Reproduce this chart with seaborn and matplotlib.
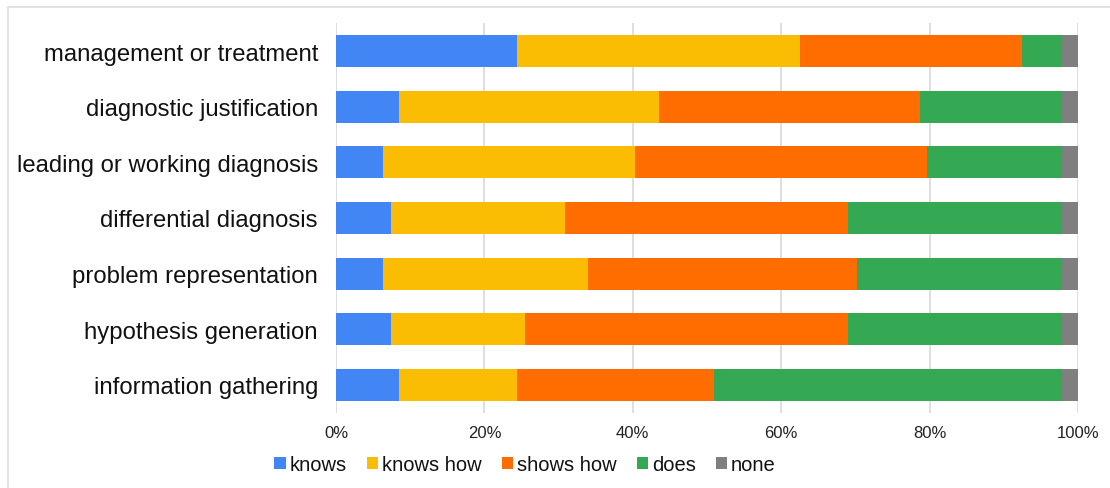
import matplotlib
matplotlib.use("Agg")
import matplotlib.pyplot as plt
from matplotlib.patches import Patch
from matplotlib.lines import Line2D
import seaborn as sns
import pandas as pd

# Competency level reached per clinical reasoning step (% of responses)
categories = [
    "management or treatment",
    "diagnostic justification",
    "leading or working diagnosis",
    "differential diagnosis",
    "problem representation",
    "hypothesis generation",
    "information gathering",
]
levels = ["knows", "knows how", "shows how", "does", "none"]
knows = [24.4, 8.5, 6.3, 7.4, 6.3, 7.4, 8.5]
knows_how = [38.2, 35.0, 34.0, 23.4, 27.7, 18.1, 15.9]
shows_how = [29.9, 35.2, 39.4, 38.2, 36.2, 43.5, 26.5]
does = [5.3, 19.1, 18.1, 28.8, 27.6, 28.8, 46.9]
none = [2.2, 2.2, 2.2, 2.2, 2.2, 2.2, 2.2]
x_ticks = [0, 20, 40, 60, 80, 100]
x_tick_labels = ["0%", "20%", "40%", "60%", "80%", "100%"]

colors = ["#4285F4", "#FBBC04", "#FF6D01", "#34A853", "#7F7F7F"]

df = pd.DataFrame(
    {"step": categories, "knows": knows, "knows how": knows_how,
     "shows how": shows_how, "does": does, "none": none}
)
cum = df[levels].cumsum(axis=1)
cum["step"] = df["step"]

sns.set_theme(style="white")
plt.rcParams["font.family"] = ["Liberation Sans", "DejaVu Sans"]

fig = plt.figure(figsize=(11.10, 4.89), dpi=100)
ax = fig.add_axes([336 / 1110, 1 - 413.8 / 489, 742 / 1110, (413.8 - 24.2) / 489])

# stacked bars: draw cumulative totals from the outermost level inward
for level, color in reversed(list(zip(levels, colors))):
    sns.barplot(data=cum, y="step", x=level, order=categories, color=color,
                width=0.575, orient="h", ax=ax, saturation=1, linewidth=0)

ax.set_xlim(0, 100)
ax.set_ylim(6.5, -0.5)
ax.set_xticks(x_ticks)
ax.set_xticklabels(x_tick_labels, fontsize=12, color="#222222")
ax.tick_params(axis="x", length=0, pad=9)
ax.tick_params(axis="y", length=0, pad=13, labelsize=17.2, labelcolor="#111111")
ax.set_xlabel("")
ax.set_ylabel("")
ax.xaxis.grid(True, color="#d9d9d9", linewidth=1.2)
ax.set_axisbelow(True)
for s in ax.spines.values():
    s.set_visible(False)

handles = [Patch(facecolor=c, edgecolor="none") for c in colors]
fig.legend(handles, levels, loc="center", bbox_to_anchor=(525 / 1110, 1 - 466 / 489),
           ncol=5, frameon=False, fontsize=14.5, handlelength=0.55,
           handleheight=0.55, handletextpad=0.2, columnspacing=1.0,
           labelcolor="#111111")

# thin frame around the chart area
fig.add_artist(Line2D([8 / 1110, 8 / 1110], [0, 1 - 8 / 489], color="#dddddd", linewidth=1.2))
fig.add_artist(Line2D([8 / 1110, 1], [1 - 8 / 489, 1 - 8 / 489], color="#dddddd", linewidth=1.2))

fig.savefig("out.png", dpi=100)
